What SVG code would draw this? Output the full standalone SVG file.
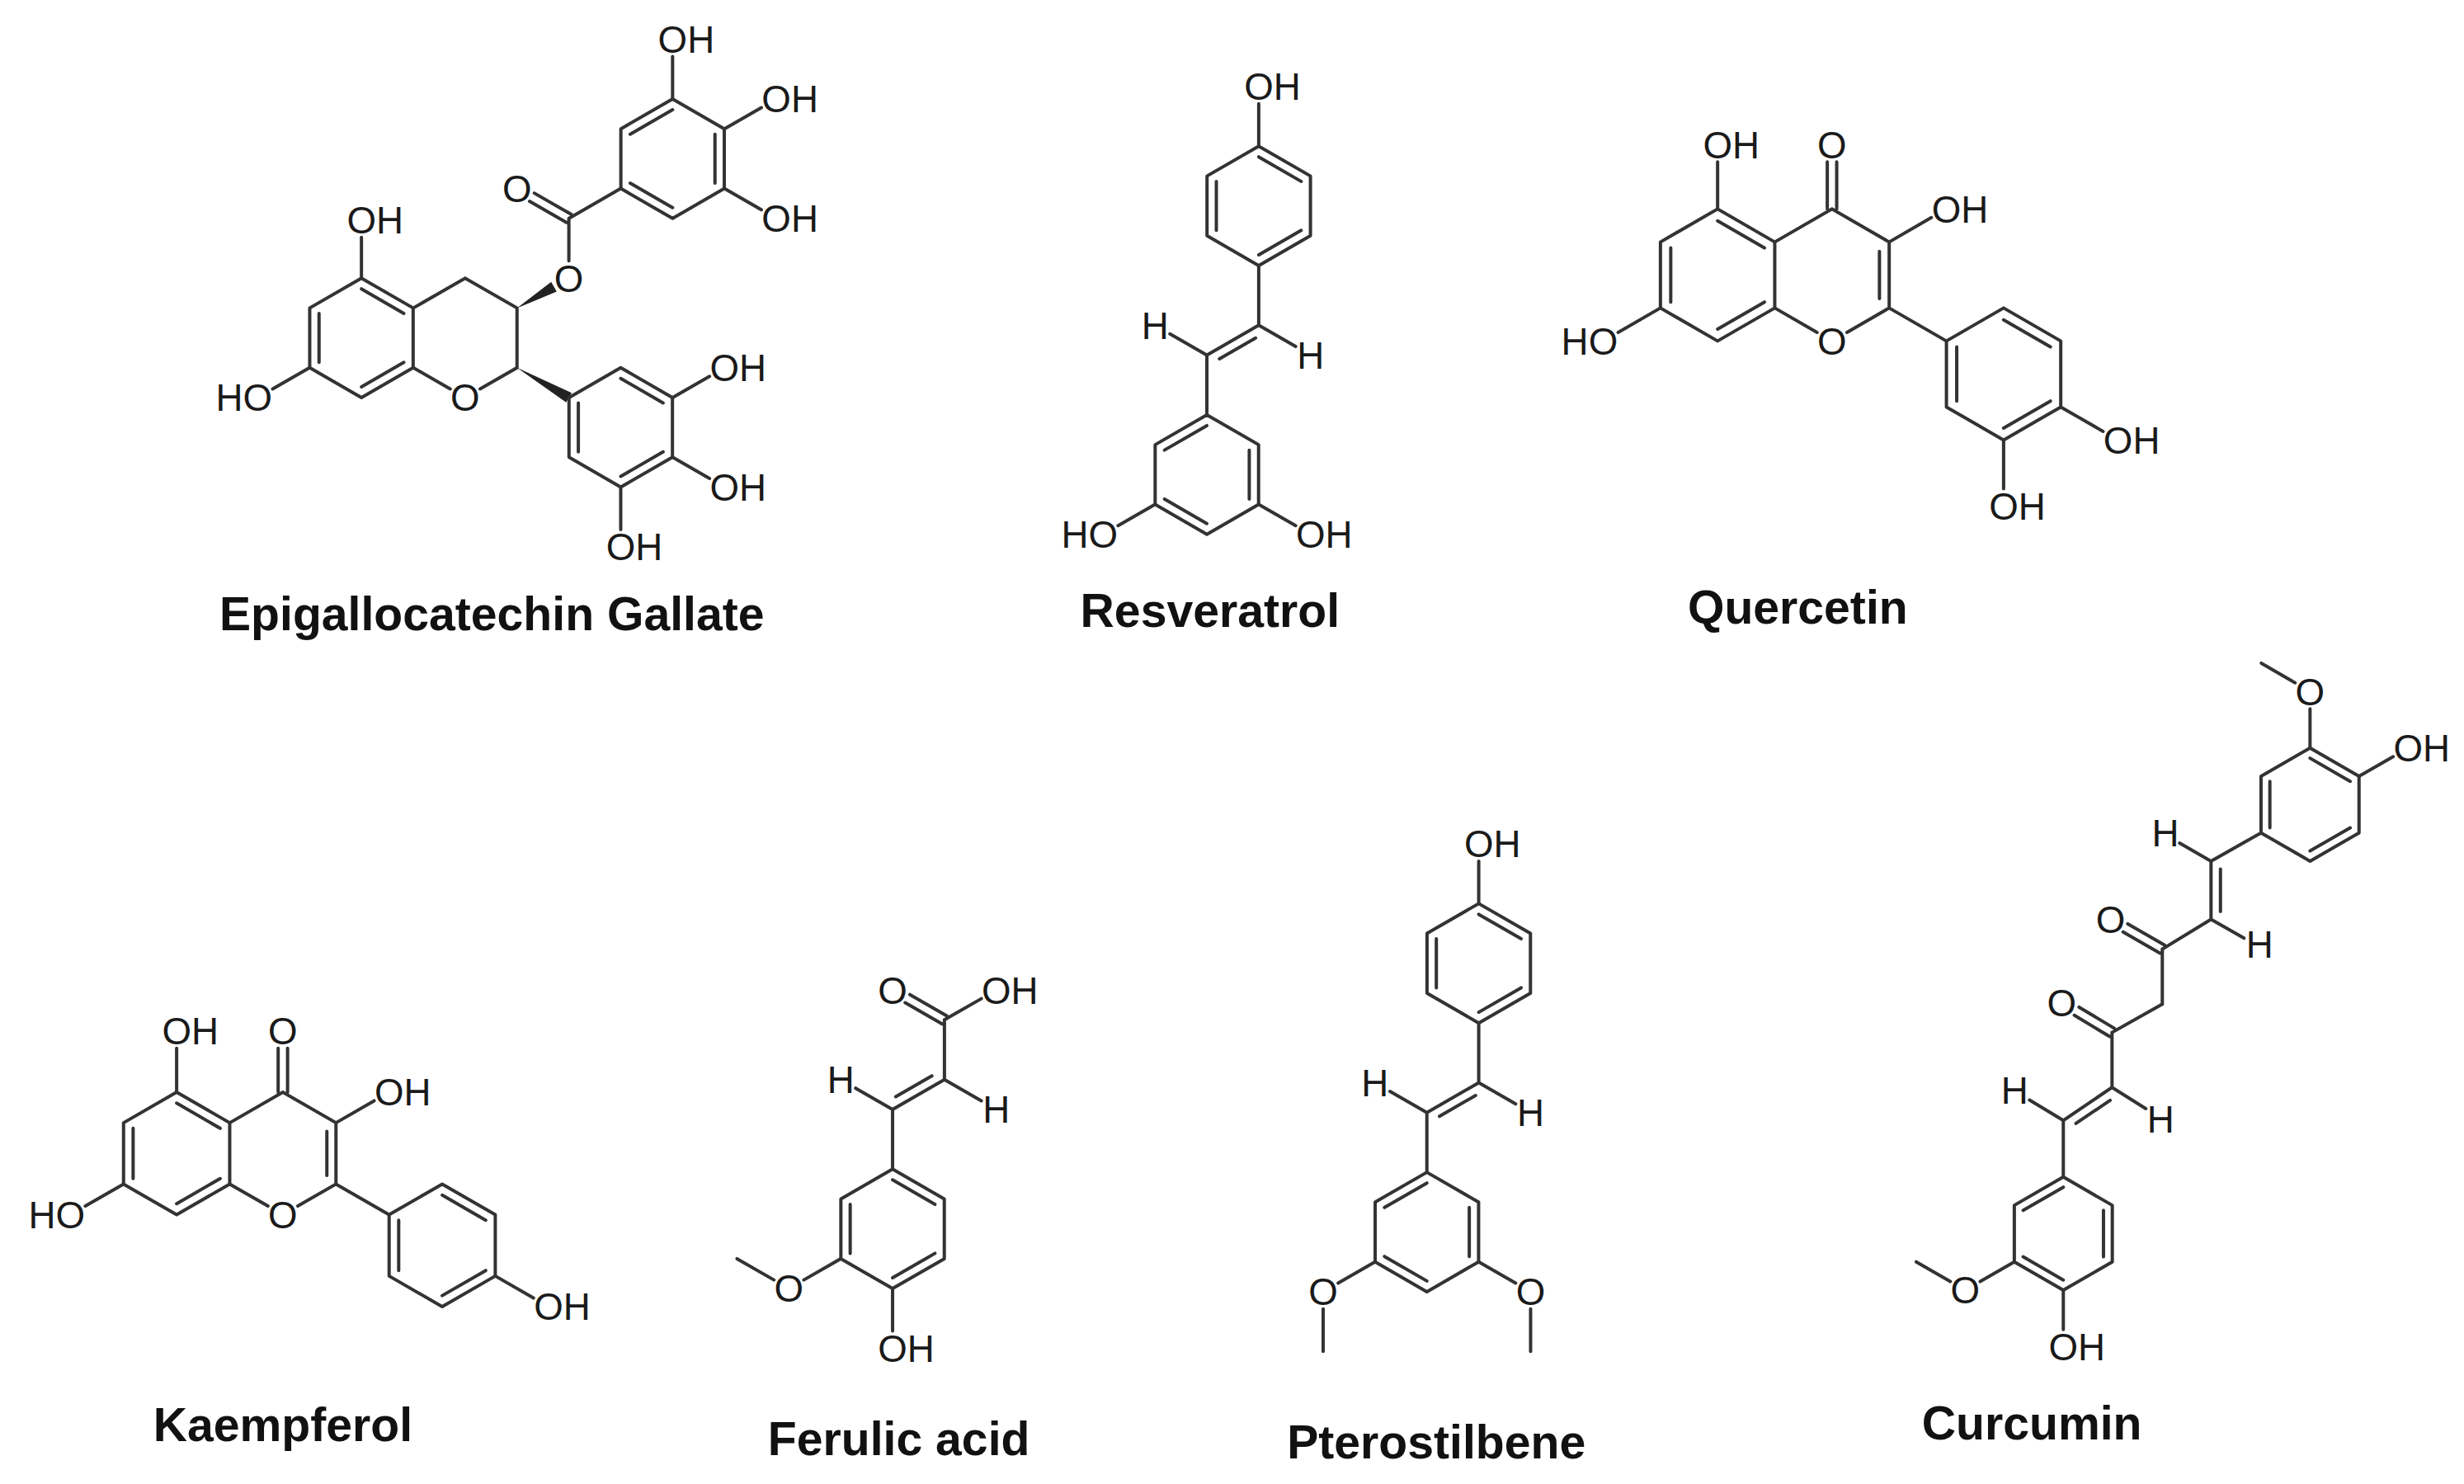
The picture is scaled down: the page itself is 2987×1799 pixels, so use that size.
<svg xmlns="http://www.w3.org/2000/svg" xmlns:xlink="http://www.w3.org/1999/xlink" width="2987" height="1799" viewBox="0 0 2987 1799">
<style>
.b{stroke:#333;stroke-width:4;fill:none;stroke-linecap:round;vector-effect:non-scaling-stroke}
.w{fill:#222;stroke:none}
.a{font-family:"Liberation Sans",Arial,sans-serif;font-size:24px;fill:#1a1a1a}
.e{text-anchor:end}
.m{text-anchor:middle}
.t{font-family:"Liberation Sans",Arial,sans-serif;font-size:30px;font-weight:bold;fill:#111;text-anchor:middle}
</style>
<defs>
<path id="hex" d="M0,-1 L0.866,-0.5 L0.866,0.5 L0,1 L-0.866,0.5 L-0.866,-0.5Z" fill="none" stroke="#333" stroke-width="4" stroke-linejoin="round" vector-effect="non-scaling-stroke"/>
<path id="dA" d="M0,-0.82 L0.71,-0.41 M0.71,0.41 L0,0.82 M-0.71,0.41 L-0.71,-0.41" fill="none" stroke="#333" stroke-width="4" stroke-linecap="round" vector-effect="non-scaling-stroke"/>
<path id="dB" d="M0,-0.82 L-0.71,-0.41 M0.71,-0.41 L0.71,0.41 M-0.71,0.41 L0,0.82" fill="none" stroke="#333" stroke-width="4" stroke-linecap="round" vector-effect="non-scaling-stroke"/>
</defs>
<rect width="2987" height="1799" fill="#fff"/>
<g transform="scale(1.905)">

<g id="egcg">
<use href="#hex" transform="translate(230,215) scale(38)"/><use href="#dA" transform="translate(230,215) scale(38)"/>
<path class="b" d="M263,196 L296,177 L329,196 L329,234 L305.5,247.5 M263,234 L286.5,247.5 M230,177 L230,151 M197,234 L173.5,247.5 M362,166 L362,139 M363.5,136.4 L340,122.9 M360.5,141.6 L337,128.1 M362,139 L395,120 M428,63 L428,36 M461,82 L484.5,68.5 M461,120 L484.5,133.5 M428,253 L451.5,239.5 M428,291 L451.5,304.5 M395,310 L395,337"/>
<polygon class="w" points="329,196 354.25,185.54 350.75,179.46"/>
<polygon class="w" points="329,234 363.75,249.96 360.25,256.04"/>
<use href="#hex" transform="translate(428,101) scale(38)"/><use href="#dB" transform="translate(428,101) scale(38)"/>
<use href="#hex" transform="translate(395,272) scale(38)"/><use href="#dA" transform="translate(395,272) scale(38)"/>
<text class="a" x="220.7" y="148.6">OH</text>
<text class="a e" x="173.3" y="261.6">HO</text>
<text class="a m" x="296" y="261.6">O</text>
<text class="a m" x="362" y="185.6">O</text>
<text class="a m" x="329" y="128.6">O</text>
<text class="a" x="418.7" y="33.6">OH</text>
<text class="a" x="484.7" y="71.6">OH</text>
<text class="a" x="484.7" y="147.6">OH</text>
<text class="a" x="451.7" y="242.6">OH</text>
<text class="a" x="451.7" y="318.6">OH</text>
<text class="a" x="385.7" y="356.6">OH</text>
<text class="t" x="313" y="401">Epigallocatechin Gallate</text>
</g>

<g id="resveratrol">
<use href="#hex" transform="translate(801,131) scale(38)"/><use href="#dA" transform="translate(801,131) scale(38)"/>
<path class="b" d="M801,93 L801,66 M801,169 L801,207 L768,226 M799,215.1 L776,228.4 M801,207 L824.5,220.5 M768,226 L744.5,212.5 M768,226 L768,264 M735,321 L711.5,334.5 M801,321 L824.5,334.5"/>
<use href="#hex" transform="translate(768,302) scale(38)"/><use href="#dB" transform="translate(768,302) scale(38)"/>
<text class="a" x="791.7" y="63.6">OH</text>
<text class="a m" x="834" y="234.6">H</text>
<text class="a m" x="735" y="215.6">H</text>
<text class="a e" x="711.3" y="348.6">HO</text>
<text class="a" x="824.7" y="348.6">OH</text>
<text class="t" x="770" y="399">Resveratrol</text>
</g>

<g id="quercetin">
<use href="#hex" transform="translate(1093,175) scale(42)"/><use href="#dA" transform="translate(1093,175) scale(42)"/>
<path class="b" d="M1129.4,154 L1165.8,133 L1202.2,154 L1202.2,196 L1175.3,211.5 M1129.4,196 L1156.3,211.5 M1196,160 L1196,190 M1162.8,133 L1162.8,103 M1168.8,133 L1168.8,103 M1093,133 L1093,103 M1202.2,154 L1229,138.5 M1056.6,196 L1029.7,211.5 M1202.2,196 L1238.6,217 M1311.4,259 L1338.3,274.5 M1275,280 L1275,311"/>
<use href="#hex" transform="translate(1275,238) scale(42)"/><use href="#dA" transform="translate(1275,238) scale(42)"/>
<text class="a m" x="1165.8" y="100.6">O</text>
<text class="a" x="1083.7" y="100.6">OH</text>
<text class="a" x="1229.3" y="141.6">OH</text>
<text class="a e" x="1029.5" y="225.6">HO</text>
<text class="a m" x="1165.8" y="225.6">O</text>
<text class="a" x="1338.5" y="288.6">OH</text>
<text class="a" x="1265.7" y="330.6">OH</text>
<text class="t" x="1144" y="397">Quercetin</text>
</g>

<g id="kaempferol">
<use href="#hex" transform="translate(112.4,734) scale(39)"/><use href="#dA" transform="translate(112.4,734) scale(39)"/>
<path class="b" d="M146.2,714.5 L180,695 L213.8,714.5 L213.8,753.5 L189.5,767.5 M146.2,753.5 L170.5,767.5 M208,720 L208,748 M177,695 L177,667 M183,695 L183,667 M112.4,695 L112.4,667 M213.8,714.5 L238.1,700.5 M78.6,753.5 L54.3,767.5 M213.8,753.5 L247.6,773 M315.2,812 L339.5,826"/>
<use href="#hex" transform="translate(281.4,792.5) scale(39)"/><use href="#dA" transform="translate(281.4,792.5) scale(39)"/>
<text class="a m" x="180" y="664.6">O</text>
<text class="a" x="103.1" y="664.6">OH</text>
<text class="a" x="238.3" y="703.6">OH</text>
<text class="a e" x="54.1" y="781.6">HO</text>
<text class="a m" x="180" y="781.6">O</text>
<text class="a" x="339.7" y="840.1">OH</text>
<text class="t" x="180" y="917">Kaempferol</text>
</g>

<g id="ferulic">
<use href="#hex" transform="translate(568,782) scale(38)"/><use href="#dA" transform="translate(568,782) scale(38)"/>
<path class="b" d="M568,820 L568,847 M535,801 L511.5,814.5 M492.5,814.5 L469,801 M568,744 L568,706 L601,687 M570,697.9 L593,684.7 M568,706 L544.5,692.5 M601,687 L624.5,700.5 M601,687 L601,649 M602.5,646.4 L579,632.9 M599.5,651.6 L576,638.1 M601,649 L624.5,635.5"/>
<text class="a" x="558.7" y="866.6">OH</text>
<text class="a m" x="502" y="828.6">O</text>
<text class="a m" x="535" y="695.6">H</text>
<text class="a m" x="634" y="714.6">H</text>
<text class="a m" x="568" y="638.6">O</text>
<text class="a" x="624.7" y="638.6">OH</text>
<text class="t" x="572" y="926">Ferulic acid</text>
</g>

<g id="pterostilbene">
<use href="#hex" transform="translate(941,613) scale(38)"/><use href="#dA" transform="translate(941,613) scale(38)"/>
<path class="b" d="M941,575 L941,548 M941,651 L941,689 L908,708 M939,697.1 L916,710.4 M941,689 L964.5,702.5 M908,708 L884.5,694.5 M908,708 L908,746 M875,803 L851.5,816.5 M842,833 L842,860 M941,803 L964.5,816.5 M974,833 L974,860"/>
<use href="#hex" transform="translate(908,784) scale(38)"/><use href="#dB" transform="translate(908,784) scale(38)"/>
<text class="a" x="931.7" y="545.6">OH</text>
<text class="a m" x="974" y="716.6">H</text>
<text class="a m" x="875" y="697.6">H</text>
<text class="a m" x="842" y="830.6">O</text>
<text class="a m" x="974" y="830.6">O</text>
<text class="t" x="914" y="928">Pterostilbene</text>
</g>

<g id="curcumin">
<use href="#hex" transform="translate(1470,512) scale(36)"/><use href="#dA" transform="translate(1470,512) scale(36)"/>
<path class="b" d="M1470,476 L1470,451 M1460.5,434.5 L1439,422 M1501.2,494 L1522.9,481.5 M1438.8,530 L1407,548 L1407,585 M1413,553 L1413,580 M1407,548 L1387,536.5 M1407,585 L1428,597 M1407,585 L1376,604 L1376,639 L1344,657 L1344,692 L1313,713 L1313,749 M1377.5,601.4 L1354,587.9 M1374.5,606.6 L1351,593.1 M1345.5,654.4 L1323,640.9 M1342.5,659.6 L1320,646.1 M1344,692 L1365.5,705.5 M1342.8,700.2 L1321,714.9 M1313,713 L1291.5,700 M1281.8,803 L1260.1,815.5 M1241.1,815.5 L1219.4,803 M1313,821 L1313,846"/>
<use href="#hex" transform="translate(1313,785) scale(36)"/><use href="#dB" transform="translate(1313,785) scale(36)"/>
<text class="a m" x="1470" y="448.6">O</text>
<text class="a" x="1523.1" y="484.6">OH</text>
<text class="a m" x="1378" y="538.6">H</text>
<text class="a m" x="1438" y="609.6">H</text>
<text class="a m" x="1343" y="593.6">O</text>
<text class="a m" x="1312" y="646.6">O</text>
<text class="a m" x="1375" y="720.6">H</text>
<text class="a m" x="1282" y="702.6">H</text>
<text class="a m" x="1250.6" y="829.6">O</text>
<text class="a" x="1303.7" y="865.6">OH</text>
<text class="t" x="1293" y="916">Curcumin</text>
</g>

</g>
</svg>
